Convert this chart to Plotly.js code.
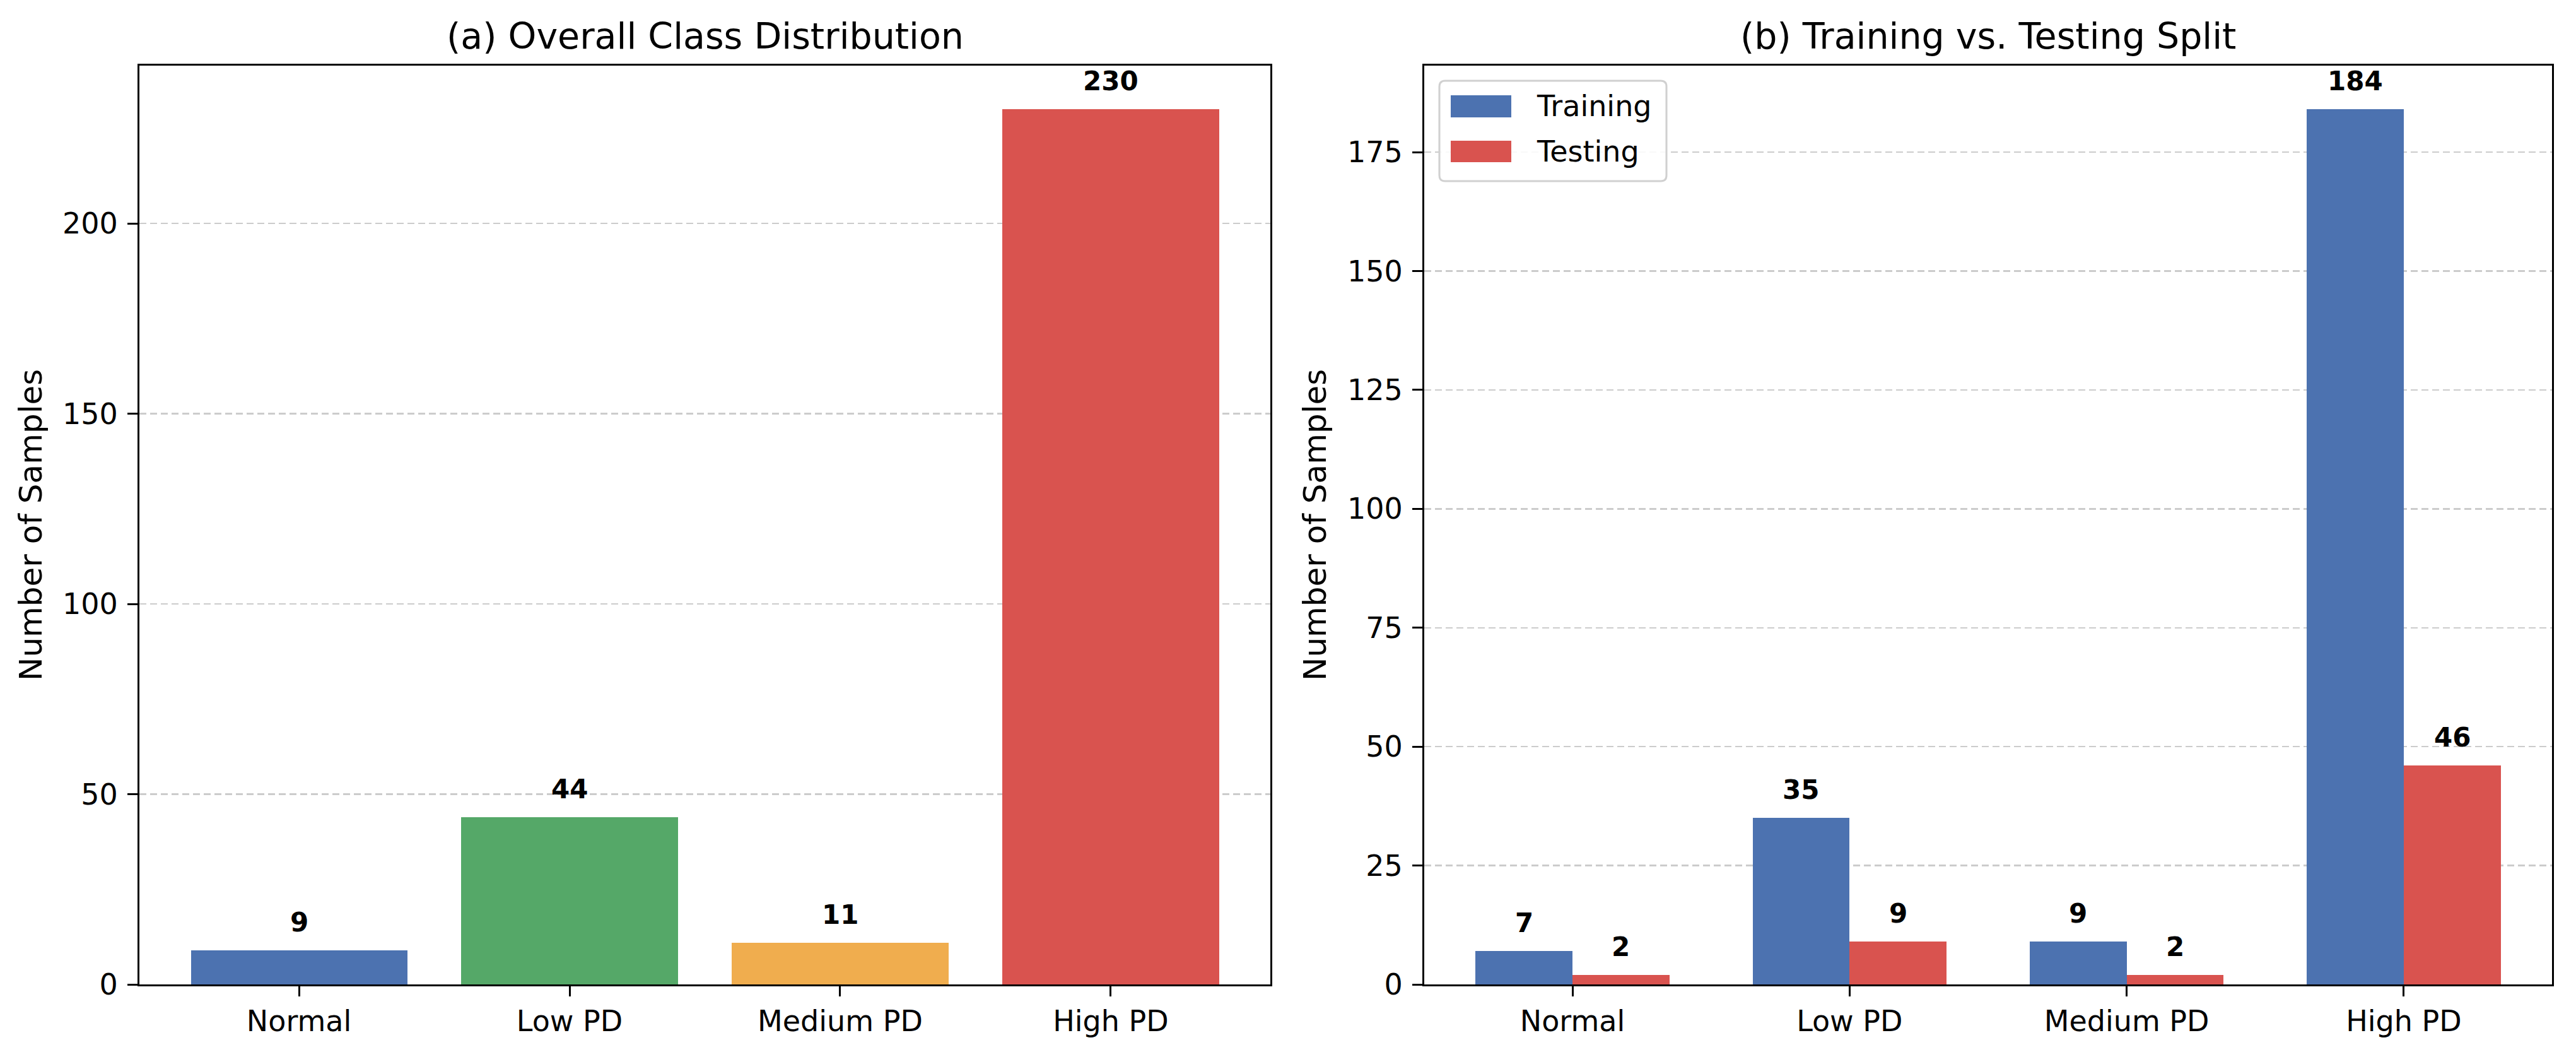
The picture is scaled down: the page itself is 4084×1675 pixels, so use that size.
<!DOCTYPE html>
<html>
<head>
<meta charset="utf-8">
<script src="https://cdn.plot.ly/plotly-3.0.1.min.js"></script>
<style>
  html, body { margin: 0; padding: 0; background: #fff; }
  #chart { width: 4084px; height: 1675px; }
</style>
</head>
<body>
<div id="chart"></div>
<script>
// data
const classes = ['Normal', 'Low PD', 'Medium PD', 'High PD'];
const overallCounts = [9, 44, 11, 230];
const trainCounts = [7, 35, 9, 184];
const testCounts = [2, 9, 2, 46];
const classColors = ['#4C72B0', '#55A868', '#F0AD4E', '#D9534F'];
const trainColor = '#4C72B0';
const testColor = '#D9534F';

const FONT = 'DejaVu Sans, Liberation Sans, sans-serif';
const W = 4084, H = 1675;
const idx = classes.map((c, i) => i);
const barW = 0.35;

// bars
let traces = [
  {
    type: 'bar', x: idx, y: overallCounts, width: 0.8,
    marker: {color: classColors}, xaxis: 'x', yaxis: 'y',
    showlegend: false, hoverinfo: 'y'
  },
  {
    type: 'bar', name: 'Training', x: idx, y: trainCounts, width: barW, offset: -barW,
    marker: {color: trainColor}, xaxis: 'x2', yaxis: 'y2', showlegend: false
  },
  {
    type: 'bar', name: 'Testing', x: idx, y: testCounts, width: barW, offset: 0,
    marker: {color: testColor}, xaxis: 'x2', yaxis: 'y2', showlegend: false
  }
];

// value labels on top of bars
let annotations = [];
function barLabel(xv, yv, xr, yr) {
  annotations.push({
    x: xv, y: yv, xref: xr, yref: yr, text: '<b>' + yv + '</b>',
    showarrow: false, xanchor: 'center', yanchor: 'bottom', yshift: 18,
    font: {family: FONT, size: 42, color: '#000'}
  });
}
overallCounts.forEach((v, i) => barLabel(i, v, 'x', 'y'));
trainCounts.forEach((v, i) => barLabel(i - barW / 2, v, 'x2', 'y2'));
testCounts.forEach((v, i) => barLabel(i + barW / 2, v, 'x2', 'y2'));

// panel titles and y titles
const dom1 = [221 / W, 2014 / W];
const dom2 = [2258 / W, 4046 / W];
function panelTitle(txt, dom) {
  annotations.push({
    x: (dom[0] + dom[1]) / 2, y: 1, xref: 'paper', yref: 'paper', text: txt,
    showarrow: false, xanchor: 'center', yanchor: 'bottom', yshift: 12,
    font: {family: FONT, size: 57, color: '#000'}
  });
}
panelTitle('(a) Overall Class Distribution', dom1);
panelTitle('(b) Training vs. Testing Split', dom2);

function yTitle(xpx) {
  annotations.push({
    x: xpx / W, y: 0.5, xref: 'paper', yref: 'paper', text: 'Number of Samples',
    showarrow: false, textangle: -90, xanchor: 'center', yanchor: 'middle',
    font: {family: FONT, size: 50, color: '#000'}
  });
}
yTitle(49);
yTitle(2085);

// legend box drawn by hand (matplotlib style, wide swatches)
const plotTop = 104, plotBot = 1560, plotH = plotBot - plotTop;
const px = v => v / W;
const py = v => (plotBot - v) / plotH;
let shapes = [];
let lx0 = px(2282), lx1 = px(2642), ly0 = py(287), ly1 = py(128);
let rx = px(9), ry = 9 / plotH;
shapes.push({
  type: 'path', xref: 'paper', yref: 'paper',
  path: `M${lx0 + rx},${ly1} L${lx1 - rx},${ly1} Q${lx1},${ly1} ${lx1},${ly1 - ry} ` +
        `L${lx1},${ly0 + ry} Q${lx1},${ly0} ${lx1 - rx},${ly0} L${lx0 + rx},${ly0} ` +
        `Q${lx0},${ly0} ${lx0},${ly0 + ry} L${lx0},${ly1 - ry} Q${lx0},${ly1} ${lx0 + rx},${ly1} Z`,
  line: {color: '#d0d0d0', width: 3}, fillcolor: 'rgba(255,255,255,0.85)', layer: 'above'
});
const legendItems = [
  {name: 'Training', color: trainColor, top: 151, bot: 186},
  {name: 'Testing', color: testColor, top: 223, bot: 257}
];
legendItems.forEach(it => {
  shapes.push({
    type: 'rect', xref: 'paper', yref: 'paper',
    x0: px(2300), x1: px(2396), y0: py(it.bot), y1: py(it.top),
    fillcolor: it.color, line: {width: 0}, layer: 'above'
  });
  annotations.push({
    x: px(2434), y: py((it.top + it.bot) / 2), xref: 'paper', yref: 'paper',
    text: it.name, showarrow: false, xanchor: 'left', yanchor: 'middle',
    font: {family: FONT, size: 46, color: '#000'}
  });
});

// axes
function yAxis(dtick, top, anchor) {
  return {
    range: [0, top], dtick: dtick, tick0: 0, anchor: anchor, domain: [0, 1],
    showline: true, mirror: true, linecolor: '#000', linewidth: 3,
    ticks: 'outside', ticklen: 16, tickwidth: 3, tickcolor: '#000',
    showgrid: true, gridcolor: '#cccccc', gridwidth: 2.5, griddash: '11px,6px',
    zeroline: false, ticklabelstandoff: 6,
    tickfont: {family: FONT, size: 46, color: '#000'}
  };
}
function xAxis(dom, lo, hi, anchor) {
  return {
    domain: dom, range: [lo, hi], anchor: anchor,
    tickvals: idx, ticktext: classes,
    showline: true, mirror: true, linecolor: '#000', linewidth: 3,
    ticks: 'outside', ticklen: 16, tickwidth: 3, tickcolor: '#000',
    showgrid: false, zeroline: false, ticklabelstandoff: 0,
    tickfont: {family: FONT, size: 46, color: '#000'}
  };
}

let layout = {
  width: W, height: H,
  margin: {l: 0, r: 0, t: plotTop, b: H - plotBot, pad: 0},
  paper_bgcolor: '#fff', plot_bgcolor: '#fff',
  barmode: 'overlay', bargap: 0,
  showlegend: false,
  font: {family: FONT, color: '#000'},
  xaxis: xAxis(dom1, -0.59, 3.59, 'y'),
  yaxis: yAxis(50, Math.max(...overallCounts) * 1.05, 'x'),
  xaxis2: xAxis(dom2, -0.535, 3.535, 'y2'),
  yaxis2: yAxis(25, Math.max(...trainCounts) * 1.05, 'x2'),
  annotations: annotations,
  shapes: shapes
};

Plotly.newPlot('chart', traces, layout, {staticPlot: true, displayModeBar: false});
</script>
</body>
</html>
